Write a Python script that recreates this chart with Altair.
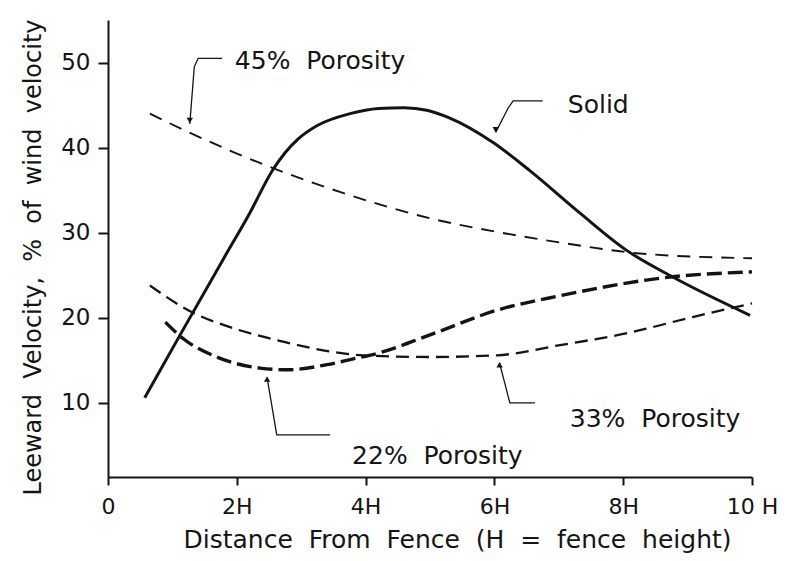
import altair as alt
import pandas as pd

# ---------------- data ----------------
x_ticks = [0, 2, 4, 6, 8, 10]
x_tick_labels = ["0", "2H", "4H", "6H", "8H", "10 H"]
y_ticks = [10, 20, 30, 40, 50]

solid_x = [0.57, 1.12, 1.79, 2.20, 2.56, 2.75, 2.95, 3.25, 3.76, 4.20, 4.60, 4.95, 5.30, 5.98, 6.55, 7.33, 8.06, 8.77, 9.97]
solid_y = [10.6, 18.0, 26.9, 32.3, 37.4, 39.4, 41.0, 42.6, 44.0, 44.6, 44.7, 44.4, 43.5, 40.6, 37.3, 32.3, 27.9, 24.8, 20.3]

p45_x = [0.65, 1.20, 2.56, 3.60, 5.00, 6.04, 7.07, 8.21, 10.0]
p45_y = [44.0, 42.0, 37.6, 34.8, 31.7, 30.1, 28.8, 27.6, 27.0]

p22_x = [0.89, 1.16, 1.69, 2.36, 2.78, 3.40, 3.76, 4.22, 5.00, 6.04, 7.02, 8.73, 10.0]
p22_y = [19.5, 17.6, 15.4, 14.1, 13.9, 14.5, 15.1, 15.9, 18.0, 20.9, 22.6, 24.8, 25.4]

p33_x = [0.65, 1.32, 1.94, 2.72, 3.49, 3.96, 5.00, 6.04, 7.02, 8.06, 9.08, 10.0]
p33_y = [23.8, 20.6, 18.8, 17.2, 16.0, 15.6, 15.4, 15.6, 16.8, 18.2, 20.1, 21.7]

# annotation labels and leader lines (data units)
labels = ["45%\u00a0 Porosity", "Solid", "22%\u00a0 Porosity", "33%\u00a0 Porosity"]
label_x = [1.97, 7.14, 3.79, 7.17]
label_y = [50.2, 45.0, 3.8, 8.1]

lead45_x = [1.77, 1.40, 1.34, 1.27]
lead45_y = [50.5, 50.5, 49.5, 42.8]
leadsolid_x = [6.75, 6.29, 6.21, 6.02]
leadsolid_y = [45.5, 45.5, 44.6, 41.8]
lead22_x = [3.45, 2.62, 2.47]
lead22_y = [6.25, 6.25, 13.0]
lead33_x = [6.63, 6.24, 6.08]
lead33_y = [10.0, 10.0, 14.7]

arrow_x = [1.27, 6.02, 2.47, 6.08]
arrow_y = [43.2, 42.1, 12.8, 14.5]
arrow_dir = ["down", "down", "up", "up"]

# ---------------- tables ----------------
curves = pd.concat([
    pd.DataFrame({"series": "Solid", "x": solid_x, "y": solid_y}),
    pd.DataFrame({"series": "45", "x": p45_x, "y": p45_y}),
    pd.DataFrame({"series": "22", "x": p22_x, "y": p22_y}),
    pd.DataFrame({"series": "33", "x": p33_x, "y": p33_y}),
], ignore_index=True)

leaders = pd.concat([
    pd.DataFrame({"lead": name, "order": list(range(len(xs))), "x": xs, "y": ys})
    for name, xs, ys in [("45", lead45_x, lead45_y), ("Solid", leadsolid_x, leadsolid_y),
                         ("22", lead22_x, lead22_y), ("33", lead33_x, lead33_y)]
], ignore_index=True)

label_df = pd.DataFrame({"text": labels, "x": label_x, "y": label_y})
arrow_df = pd.DataFrame({"x": arrow_x, "y": arrow_y, "dir": arrow_dir})

FONT = "DejaVu Sans"
INK = "#141414"

label_expr = "''"
for v, l in reversed(list(zip(x_ticks, x_tick_labels))):
    label_expr = f"datum.value == {v} ? '{l}' : ({label_expr})"

xscale = alt.Scale(domain=[0, 10], nice=False, zero=False)
yscale = alt.Scale(domain=[1.3, 55], nice=False, zero=False)

x_axis = alt.Axis(
    values=x_ticks, labelExpr=label_expr, grid=False,
    tickSize=8, tickWidth=2, domainWidth=2, domainColor=INK, tickColor=INK,
    labelFont=FONT, labelFontSize=22, labelColor=INK, labelPadding=11,
    labelFlush=False, labelOverlap=False,
    title="Distance\u00a0 From\u00a0 Fence\u00a0 (H\u00a0 =\u00a0 fence\u00a0 height)",
    titleFont=FONT, titleFontSize=25, titleFontWeight="normal", titleColor=INK,
    titleX=349, titleY=70, titleAlign="center", titleBaseline="alphabetic",
)
y_axis = alt.Axis(
    values=y_ticks, grid=False,
    tickSize=10, tickWidth=2, domainWidth=2, domainColor=INK, tickColor=INK,
    labelFont=FONT, labelFontSize=23, labelColor=INK, labelPadding=8,
    labelFlush=False,
    title="Leeward\u00a0 Velocity,\u00a0 %\u00a0 of\u00a0 wind\u00a0 velocity",
    titleFont=FONT, titleFontSize=24, titleFontWeight="normal", titleColor=INK,
    titleX=-68, titleY=237, titleAlign="center", titleBaseline="alphabetic", titleAngle=270,
)

base = alt.Chart(curves)


def curve(series, width, dash=None):
    kw = dict(color=INK, strokeWidth=width, interpolate="monotone", strokeCap="butt")
    if dash:
        kw["strokeDash"] = dash
    return base.transform_filter(alt.datum.series == series).mark_line(**kw).encode(
        x=alt.X("x:Q", scale=xscale, axis=x_axis),
        y=alt.Y("y:Q", scale=yscale, axis=y_axis),
    )


solid = curve("Solid", 3.0)
c45 = curve("45", 1.9, [13, 9])
c22 = curve("22", 3.4, [15, 6])
c33 = curve("33", 2.3, [13, 7])

lead = alt.Chart(leaders).mark_line(color=INK, strokeWidth=1.3).encode(
    x=alt.X("x:Q", scale=xscale), y=alt.Y("y:Q", scale=yscale),
    detail="lead:N", order="order:Q",
)

arrows_down = alt.Chart(arrow_df).transform_filter(alt.datum.dir == "down").mark_point(
    shape="triangle-down", filled=True, color=INK, size=40, opacity=1
).encode(x=alt.X("x:Q", scale=xscale), y=alt.Y("y:Q", scale=yscale))
arrows_up = alt.Chart(arrow_df).transform_filter(alt.datum.dir == "up").mark_point(
    shape="triangle-up", filled=True, color=INK, size=40, opacity=1
).encode(x=alt.X("x:Q", scale=xscale), y=alt.Y("y:Q", scale=yscale))

texts = alt.Chart(label_df).mark_text(
    align="left", baseline="middle", font=FONT, fontSize=25, color=INK
).encode(x=alt.X("x:Q", scale=xscale), y=alt.Y("y:Q", scale=yscale), text="text:N")

chart = alt.layer(c45, c33, c22, solid, lead, arrows_down, arrows_up, texts).properties(
    width=644, height=457,
    autosize=alt.AutoSizeParams(type="none"),
    padding={"left": 100, "top": 12, "right": 26, "bottom": 76},
    background="white",
).configure_view(stroke=None)

chart.save("out.html", embed_options={"renderer": "svg", "actions": False})
